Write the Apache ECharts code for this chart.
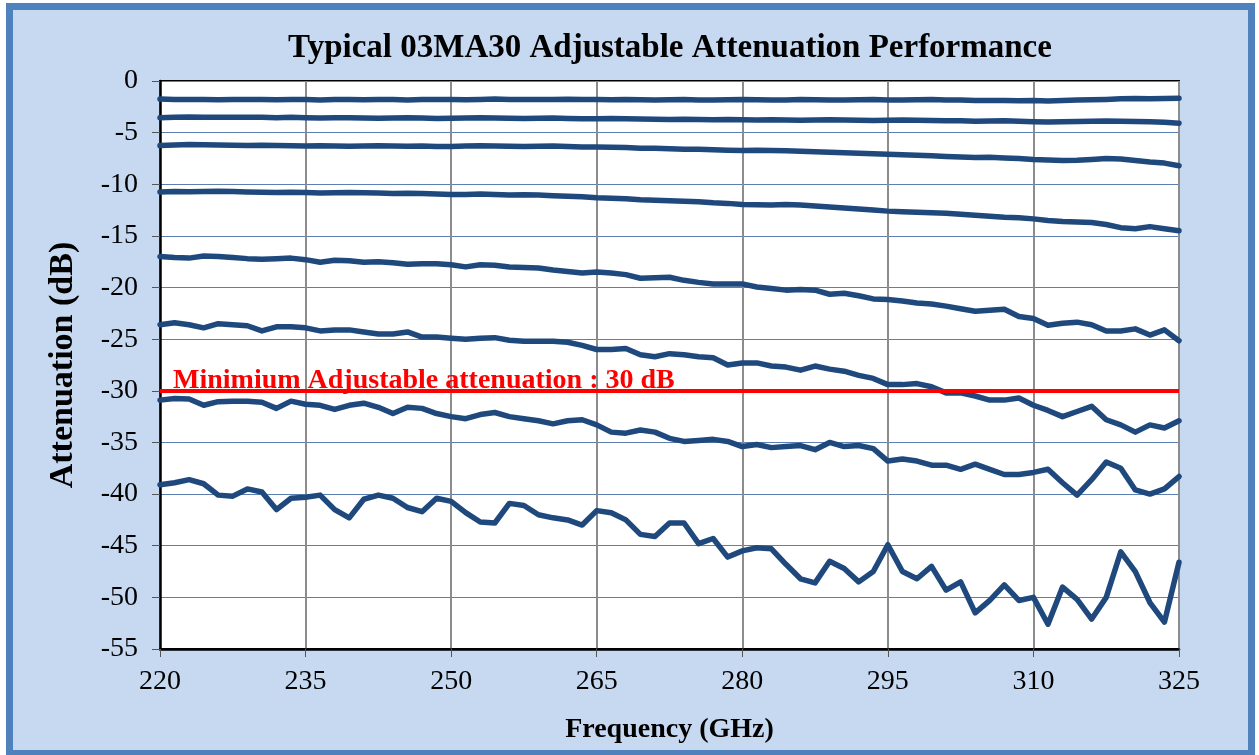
<!DOCTYPE html>
<html>
<head>
<meta charset="utf-8">
<script src="https://cdn.jsdelivr.net/npm/echarts@6/dist/echarts.min.js"></script>
<style>
  html, body { margin: 0; padding: 0; background: #ffffff; width: 1259px; height: 755px; overflow: hidden; }
  #frame { position: absolute; left: 6px; top: 3px; width: 1249px; height: 754px; box-sizing: border-box;
           border: 7px solid #4f81bd; background: #c6d9f1; }
  #chart { position: absolute; left: 0; top: 0; width: 1259px; height: 755px; }
</style>
</head>
<body>
<div id="frame"></div>
<div id="chart"></div>
<script>
// ---- data ----
const titleText = 'Typical 03MA30 Adjustable Attenuation Performance';
const xAxisName = 'Frequency (GHz)';
const yAxisName = 'Attenuation (dB)';
const limitLabel = 'Minimium Adjustable attenuation : 30 dB';
const limitValue = -30;

const freq = [220, 221.5, 223, 224.5, 226, 227.5, 229, 230.5, 232, 233.5,
  235, 236.5, 238, 239.5, 241, 242.5, 244, 245.5, 247, 248.5,
  250, 251.5, 253, 254.5, 256, 257.5, 259, 260.5, 262, 263.5,
  265, 266.5, 268, 269.5, 271, 272.5, 274, 275.5, 277, 278.5,
  280, 281.5, 283, 284.5, 286, 287.5, 289, 290.5, 292, 293.5,
  295, 296.5, 298, 299.5, 301, 302.5, 304, 305.5, 307, 308.5,
  310, 311.5, 313, 314.5, 316, 317.5, 319, 320.5, 322, 323.5, 325];

const att1 = [-1.75, -1.8, -1.78, -1.8, -1.82, -1.8, -1.78, -1.8, -1.82, -1.8,
  -1.8, -1.83, -1.8, -1.78, -1.82, -1.8, -1.8, -1.83, -1.8, -1.78,
  -1.8, -1.82, -1.78, -1.75, -1.78, -1.8, -1.8, -1.78, -1.76, -1.78,
  -1.8, -1.82, -1.8, -1.82, -1.85, -1.82, -1.8, -1.83, -1.85, -1.82,
  -1.8, -1.82, -1.85, -1.83, -1.8, -1.82, -1.85, -1.85, -1.82, -1.8,
  -1.83, -1.85, -1.82, -1.8, -1.83, -1.85, -1.88, -1.9, -1.88, -1.92,
  -1.9, -1.93, -1.9, -1.85, -1.82, -1.78, -1.72, -1.7, -1.72, -1.7, -1.68];

const att2 = [-3.55, -3.5, -3.48, -3.5, -3.52, -3.5, -3.5, -3.52, -3.55, -3.52,
  -3.55, -3.58, -3.55, -3.55, -3.58, -3.6, -3.58, -3.55, -3.58, -3.62,
  -3.6, -3.58, -3.55, -3.58, -3.6, -3.62, -3.6, -3.58, -3.62, -3.65,
  -3.65, -3.62, -3.65, -3.68, -3.7, -3.72, -3.7, -3.72, -3.75, -3.72,
  -3.75, -3.78, -3.75, -3.78, -3.8, -3.78, -3.75, -3.78, -3.8, -3.82,
  -3.8, -3.78, -3.8, -3.83, -3.85, -3.85, -3.9, -3.88, -3.85, -3.9,
  -3.95, -3.98, -3.95, -3.92, -3.9, -3.88, -3.9, -3.92, -3.95, -4.0, -4.1];

const att3 = [-6.25, -6.2, -6.15, -6.18, -6.2, -6.22, -6.25, -6.22, -6.25, -6.28,
  -6.3, -6.28, -6.3, -6.32, -6.3, -6.28, -6.3, -6.32, -6.3, -6.35,
  -6.35, -6.3, -6.28, -6.3, -6.32, -6.35, -6.32, -6.3, -6.35, -6.38,
  -6.4, -6.42, -6.45, -6.5, -6.52, -6.55, -6.6, -6.62, -6.65, -6.7,
  -6.72, -6.7, -6.72, -6.75, -6.8, -6.85, -6.9, -6.95, -7.0, -7.05,
  -7.1, -7.15, -7.2, -7.25, -7.3, -7.35, -7.4, -7.38, -7.45, -7.5,
  -7.6, -7.65, -7.7, -7.68, -7.6, -7.5, -7.55, -7.7, -7.85, -7.95, -8.2];

const att4 = [-10.75, -10.7, -10.72, -10.7, -10.68, -10.7, -10.75, -10.78, -10.8, -10.78,
  -10.8, -10.85, -10.82, -10.8, -10.82, -10.85, -10.9, -10.88, -10.9, -10.95,
  -11.0, -10.98, -10.95, -11.0, -11.05, -11.02, -11.05, -11.1, -11.15, -11.2,
  -11.3, -11.35, -11.4, -11.5, -11.55, -11.6, -11.65, -11.7, -11.8, -11.85,
  -11.95, -11.98, -12.0, -11.95, -12.0, -12.1, -12.2, -12.3, -12.4, -12.5,
  -12.6, -12.65, -12.7, -12.75, -12.8, -12.9, -13.0, -13.1, -13.2, -13.25,
  -13.35, -13.5, -13.6, -13.65, -13.7, -13.9, -14.2, -14.3, -14.1, -14.3, -14.5];

const att5 = [-17.0, -17.1, -17.15, -16.95, -17.0, -17.1, -17.2, -17.25, -17.2, -17.15,
  -17.3, -17.55, -17.35, -17.4, -17.55, -17.5, -17.6, -17.75, -17.7, -17.7,
  -17.8, -18.0, -17.8, -17.85, -18.0, -18.05, -18.1, -18.3, -18.45, -18.6,
  -18.5, -18.6, -18.75, -19.1, -19.05, -19.0, -19.3, -19.5, -19.65, -19.65,
  -19.65, -19.95, -20.1, -20.25, -20.2, -20.25, -20.65, -20.55, -20.8, -21.1,
  -21.15, -21.3, -21.5, -21.6, -21.8, -22.05, -22.3, -22.2, -22.1, -22.8,
  -23.0, -23.65, -23.45, -23.35, -23.6, -24.2, -24.2, -24.0, -24.6, -24.1, -25.15];

const att6 = [-23.6, -23.4, -23.6, -23.9, -23.5, -23.6, -23.7, -24.2, -23.8, -23.8,
  -23.9, -24.2, -24.1, -24.1, -24.3, -24.5, -24.5, -24.3, -24.8, -24.8,
  -24.9, -25.0, -24.9, -24.85, -25.1, -25.2, -25.2, -25.2, -25.3, -25.6,
  -26.0, -26.0, -25.9, -26.5, -26.7, -26.4, -26.5, -26.7, -26.8, -27.5,
  -27.3, -27.3, -27.6, -27.7, -28.0, -27.6, -27.9, -28.1, -28.5, -28.8,
  -29.4, -29.4, -29.3, -29.6, -30.2, -30.2, -30.5, -30.9, -30.9, -30.7,
  -31.4, -31.9, -32.5, -32.0, -31.5, -32.8, -33.3, -34.0, -33.3, -33.6, -32.9];

const att7 = [-30.9, -30.75, -30.8, -31.4, -31.05, -31.0, -31.0, -31.1, -31.7, -31.0,
  -31.3, -31.4, -31.8, -31.4, -31.2, -31.6, -32.2, -31.6, -31.7, -32.2,
  -32.5, -32.7, -32.3, -32.1, -32.5, -32.7, -32.9, -33.2, -32.9, -32.8,
  -33.3, -34.0, -34.1, -33.8, -34.0, -34.6, -34.9, -34.8, -34.7, -34.9,
  -35.4, -35.2, -35.5, -35.4, -35.3, -35.7, -35.0, -35.4, -35.3, -35.6,
  -36.8, -36.6, -36.8, -37.2, -37.2, -37.6, -37.1, -37.6, -38.1, -38.1,
  -37.9, -37.6, -38.9, -40.1, -38.6, -36.9, -37.5, -39.6, -40.0, -39.5, -38.3];

const att8 = [-39.1, -38.9, -38.6, -39.0, -40.1, -40.2, -39.5, -39.8, -41.5, -40.4,
  -40.3, -40.1, -41.5, -42.3, -40.5, -40.1, -40.4, -41.3, -41.7, -40.4,
  -40.7, -41.8, -42.7, -42.8, -40.9, -41.1, -42.0, -42.3, -42.5, -43.0,
  -41.6, -41.8, -42.5, -43.9, -44.1, -42.8, -42.8, -44.8, -44.3, -46.1,
  -45.5, -45.2, -45.3, -46.8, -48.2, -48.6, -46.5, -47.2, -48.5, -47.5,
  -44.9, -47.5, -48.2, -47.0, -49.3, -48.5, -51.5, -50.3, -48.8, -50.3,
  -50.0, -52.6, -49.0, -50.2, -52.1, -50.0, -45.6, -47.5, -50.5, -52.4, -46.6];

const seriesValues = [att1, att2, att3, att4, att5, att6, att7, att8];

// ---- chart ----
const FONT = '"Liberation Serif", "Times New Roman", serif';
const chart = echarts.init(document.getElementById('chart'), null, { renderer: 'canvas' });

const series = seriesValues.map(function (vals, k) {
  return {
    type: 'line',
    name: 'curve' + (k + 1),
    data: freq.map(function (f, i) { return [f, vals[i]]; }),
    showSymbol: false,
    symbol: 'none',
    lineStyle: { color: '#1f497d', width: 5.5, cap: 'round', join: 'round' },
    z: 2
  };
});
series.push({
  type: 'line',
  name: 'limit',
  data: [],
  z: 3,
  markLine: {
    silent: true,
    symbol: 'none',
    animation: false,
    lineStyle: { color: '#ff0000', width: 4, type: 'solid' },
    label: {
      show: true,
      position: 'insideStartTop',
      formatter: limitLabel,
      color: '#ff0000',
      fontFamily: FONT,
      fontWeight: 'bold',
      fontSize: 28,
      distance: [13, -4]
    },
    data: [{ yAxis: limitValue }]
  }
});

chart.setOption({
  animation: false,
  backgroundColor: 'transparent',
  title: {
    text: titleText,
    left: 665,
    top: 27,
    textAlign: 'center',
    textStyle: { fontFamily: FONT, fontWeight: 'bold', fontSize: 33, color: '#000' }
  },
  grid: {
    left: 160, top: 81, width: 1019, height: 568,
    show: true, backgroundColor: '#ffffff', borderColor: '#000000', borderWidth: 2,
    containLabel: false
  },
  xAxis: {
    type: 'value',
    min: 220, max: 325, interval: 15,
    name: xAxisName,
    nameLocation: 'middle',
    nameGap: 67,
    nameTextStyle: { fontFamily: FONT, fontWeight: 'bold', fontSize: 28, color: '#000' },
    axisLine: { show: true, onZero: false, lineStyle: { color: '#000', width: 2.5 } },
    axisTick: { show: true, inside: false, length: 8, lineStyle: { color: '#555', width: 1 } },
    axisLabel: { fontFamily: FONT, fontSize: 28, color: '#000', margin: 19 },
    splitLine: { show: true, lineStyle: { color: '#8c8c8c', width: 2 } }
  },
  yAxis: {
    type: 'value',
    min: -55, max: 0, interval: 5,
    name: yAxisName,
    nameLocation: 'middle',
    nameGap: 80,
    nameTextStyle: { fontFamily: FONT, fontWeight: 'bold', fontSize: 34, color: '#000' },
    axisLine: { show: true, onZero: false, lineStyle: { color: '#000', width: 2.5 } },
    axisTick: { show: true, inside: false, length: 8, lineStyle: { color: '#555', width: 1 } },
    axisLabel: { fontFamily: FONT, fontSize: 28, color: '#000', margin: 22 },
    splitLine: { show: true, lineStyle: { color: '#5a7fb0', width: 1.2 } }
  },
  series: series
});
</script>
</body>
</html>
